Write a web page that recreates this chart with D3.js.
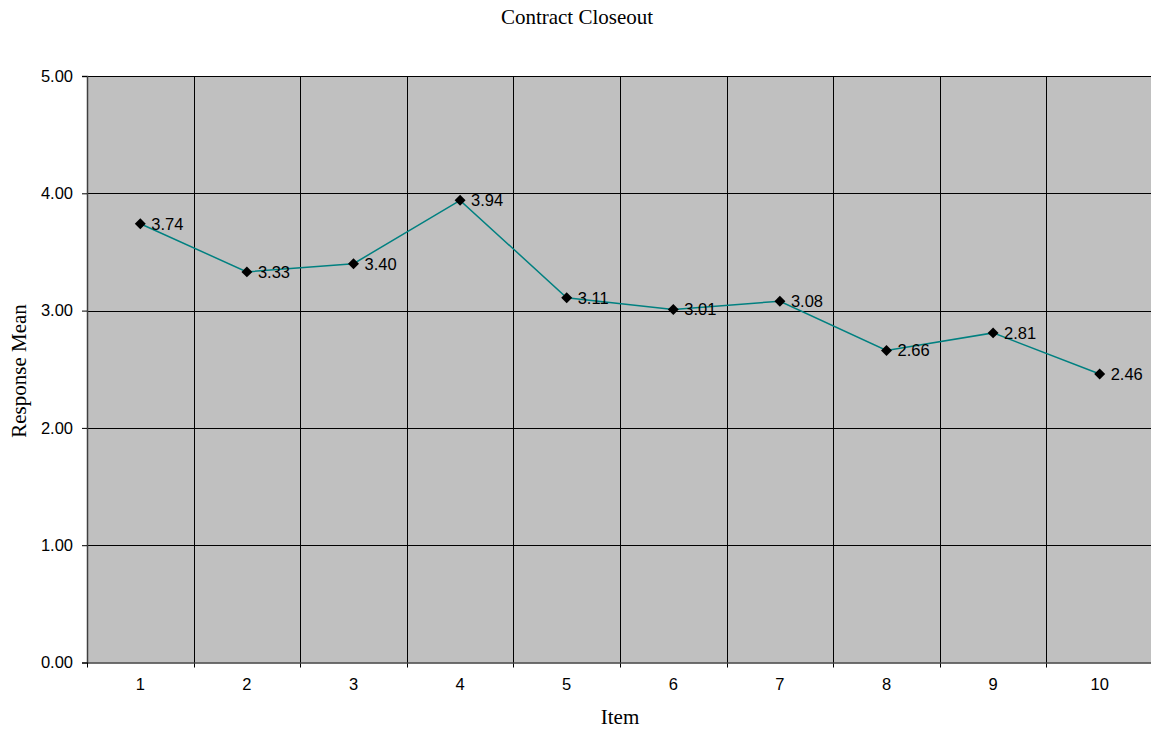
<!DOCTYPE html>
<html><head><meta charset="utf-8">
<script src="https://cdn.jsdelivr.net/npm/d3@7"></script>
<style>body{margin:0;background:#fff;} svg{display:block;}</style>
</head><body>
<svg id="c" width="1151" height="731"></svg>
<script>
const items = ["1","2","3","4","5","6","7","8","9","10"];
const means = [3.74,3.33,3.40,3.94,3.11,3.01,3.08,2.66,2.81,2.46];
const yTicks = [0,1,2,3,4,5];

const svg = d3.select("#c");
const m = {left:87, right:1153, top:76, bottom:662.5};
const x = d3.scaleBand().domain(items).range([m.left, m.right]);
const y = d3.scaleLinear().domain([0,5]).range([m.bottom, m.top]);
const sans = "'Liberation Sans', Arial, sans-serif";
const serif = "'Liberation Serif', 'Times New Roman', serif";

svg.append("rect").attr("x",m.left).attr("y",m.top).attr("width",m.right-m.left).attr("height",m.bottom-m.top).attr("fill","#c0c0c0");

// horizontal grid
svg.append("g").selectAll("line").data(yTicks.slice(1)).join("line")
  .attr("x1",m.left).attr("x2",m.right).attr("y1",d=>Math.round(y(d))+0.5).attr("y2",d=>Math.round(y(d))+0.5)
  .attr("stroke","#000").attr("stroke-width",1);
// vertical grid
svg.append("g").selectAll("line").data(items.slice(1)).join("line")
  .attr("x1",d=>Math.round(x(d))+0.5).attr("x2",d=>Math.round(x(d))+0.5).attr("y1",m.top).attr("y2",m.bottom+5)
  .attr("stroke","#000").attr("stroke-width",1);

// y axis
const ya = svg.append("g").attr("transform",`translate(${m.left},0)`)
  .call(d3.axisLeft(y).tickValues(yTicks).tickFormat(d3.format(".2f")).tickSize(5).tickPadding(9));
ya.select(".domain").attr("stroke","#404040").attr("stroke-width",1.5);
ya.selectAll(".tick line").attr("stroke","#000");
ya.selectAll("text").attr("font-family",sans).attr("font-size","16.5px").attr("fill","#000");

// x axis
const xa = svg.append("g").attr("transform",`translate(0,${m.bottom})`)
  .call(d3.axisBottom(x).tickSize(0).tickPadding(16));
xa.select(".domain").attr("stroke","#404040").attr("stroke-width",1.5);
xa.selectAll("text").attr("font-family",sans).attr("font-size","16.5px").attr("fill","#000");
svg.append("line").attr("x1",m.left+0.5).attr("x2",m.left+0.5).attr("y1",m.bottom).attr("y2",m.bottom+5).attr("stroke","#000");

const cx = d => x(d)+x.bandwidth()/2;
const pts = items.map((d,i)=>({k:d,v:means[i]}));

svg.append("path").datum(pts)
  .attr("d", d3.line().x(d=>cx(d.k)).y(d=>y(d.v)))
  .attr("fill","none").attr("stroke","#008080").attr("stroke-width",1.5);

svg.append("g").selectAll("path").data(pts).join("path")
  .attr("d", d3.symbol(d3.symbolSquare, 60)())
  .attr("transform",d=>`translate(${cx(d.k)},${y(d.v)}) rotate(45)`)
  .attr("fill","#000");

svg.append("g").selectAll("text").data(pts).join("text")
  .attr("x",d=>cx(d.k)+11).attr("y",d=>y(d.v)+6)
  .attr("font-family",sans).attr("font-size","16.5px").attr("fill","#000")
  .text(d=>d3.format(".2f")(d.v));

svg.append("text").attr("x",577).attr("y",24).attr("text-anchor","middle")
  .attr("font-family",serif).attr("font-size","21px").text("Contract Closeout");
svg.append("text").attr("x",620).attr("y",724).attr("text-anchor","middle")
  .attr("font-family",serif).attr("font-size","21px").text("Item");
svg.append("text").attr("transform",`translate(26,371) rotate(-90)`).attr("text-anchor","middle")
  .attr("font-family",serif).attr("font-size","21px").text("Response Mean");
</script>
</body></html>
